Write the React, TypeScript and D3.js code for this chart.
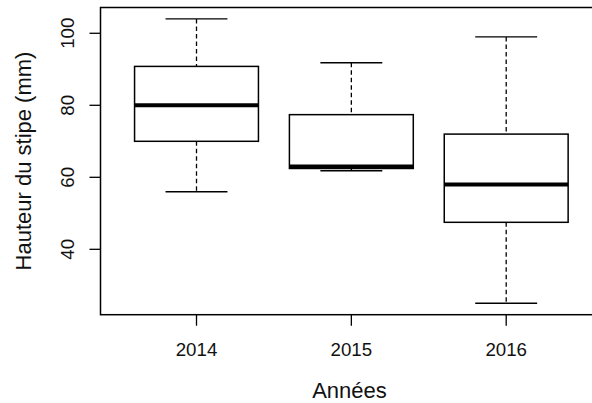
import React from "react";
import * as d3 from "d3";

const categories = ["2014", "2015", "2016"];
const whiskerLow = [56, 61.8, 25];
const q1 = [70, 62.45, 47.5];
const median = [80, 63, 58];
const q3 = [90.8, 77.4, 72];
const whiskerHigh = [104, 91.8, 99];
const yTicks = [40, 60, 80, 100];
const xLabel = "Années";
const yLabel = "Hauteur du stipe (mm)";

const W = 592;
const H = 403;

export default function App() {
  const x = d3.scaleLinear().domain([0.38, 3.62]).range([100.5, 602.2]);
  const y = d3.scaleLinear().domain([21.84, 107.16]).range([314.7, 7.5]);
  const boxHalf = 0.4;
  const capHalf = 0.2;
  const font = "'Liberation Sans', Arial, sans-serif";
  const [x0, x1] = x.range();
  const [yb, yt] = y.range();

  return (
    <svg width={W} height={H} style={{ position: "absolute", left: 0, top: 0, background: "#fff" }}>
      <rect x={0} y={0} width={W} height={H} fill="#fff" />
      {categories.map((c, i) => {
        const cx = x(i + 1);
        const bl = x(i + 1 - boxHalf);
        const br = x(i + 1 + boxHalf);
        const cl = x(i + 1 - capHalf);
        const cr = x(i + 1 + capHalf);
        return (
          <g key={c}>
            <line x1={cx} x2={cx} y1={y(whiskerHigh[i])} y2={y(q3[i])} stroke="#000" strokeWidth={1.3} strokeDasharray="4.5,3" />
            <line x1={cx} x2={cx} y1={y(q1[i])} y2={y(whiskerLow[i])} stroke="#000" strokeWidth={1.3} strokeDasharray="4.5,3" />
            <line x1={cl} x2={cr} y1={y(whiskerHigh[i])} y2={y(whiskerHigh[i])} stroke="#000" strokeWidth={1.4} />
            <line x1={cl} x2={cr} y1={y(whiskerLow[i])} y2={y(whiskerLow[i])} stroke="#000" strokeWidth={1.4} />
            <rect x={bl} y={y(q3[i])} width={br - bl} height={y(q1[i]) - y(q3[i])} fill="#fff" stroke="#000" strokeWidth={1.5} />
            <line x1={bl} x2={br} y1={y(median[i])} y2={y(median[i])} stroke="#000" strokeWidth={4} />
          </g>
        );
      })}
      <rect x={x0} y={yt} width={x1 - x0} height={yb - yt} fill="none" stroke="#000" strokeWidth={1.5} />
      {yTicks.map((t) => (
        <g key={t}>
          <line x1={x0} x2={x0 - 11} y1={y(t)} y2={y(t)} stroke="#000" strokeWidth={1.3} />
          <text
            transform={`translate(74,${y(t)}) rotate(-90)`}
            textAnchor="middle"
            fontFamily={font}
            fontSize={18.7}
            fill="#111"
          >
            {t}
          </text>
        </g>
      ))}
      {categories.map((c, i) => (
        <g key={"x" + c}>
          <line x1={x(i + 1)} x2={x(i + 1)} y1={yb} y2={yb + 11} stroke="#000" strokeWidth={1.3} />
          <text x={x(i + 1)} y={356} textAnchor="middle" fontFamily={font} fontSize={18.7} fill="#111">
            {c}
          </text>
        </g>
      ))}
      <text x={349.5} y={398} textAnchor="middle" fontFamily={font} fontSize={22} fill="#111">
        {xLabel}
      </text>
      <text
        transform={`translate(30.5,161) rotate(-90)`}
        textAnchor="middle"
        fontFamily={font}
        fontSize={22}
        fill="#111"
      >
        {yLabel}
      </text>
    </svg>
  );
}
